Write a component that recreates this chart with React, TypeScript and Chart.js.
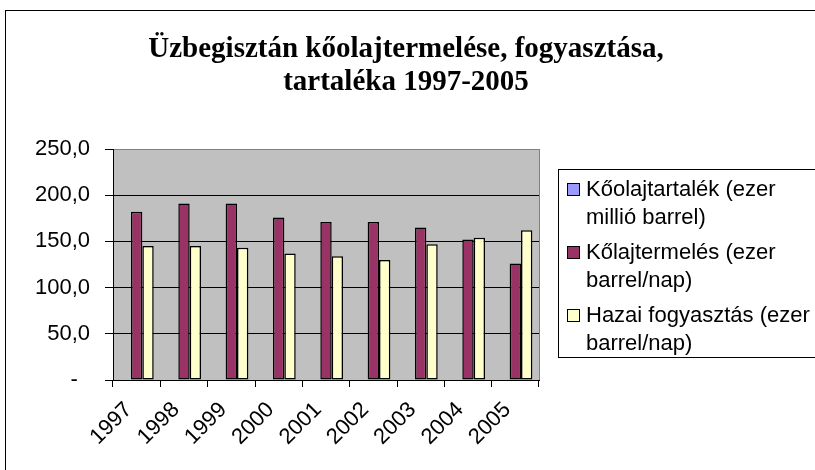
import React, { useEffect, useRef } from "react";
import { Chart, registerables } from "chart.js";

Chart.register(...registerables);

const years = ["1997", "1998", "1999", "2000", "2001", "2002", "2003", "2004", "2005"];
const reserves = [0.6, 0.6, 0.6, 0.6, 0.6, 0.6, 0.6, 0.6, 0.6];
const production = [182, 191, 191, 176, 171, 171, 165, 152, 126];
const consumption = [145, 145, 143, 137, 134, 130, 147, 154, 162];
const seriesLabels = [
  "Kőolajtartalék (ezer millió barrel)",
  "Kőlajtermelés (ezer barrel/nap)",
  "Hazai fogyasztás (ezer barrel/nap)",
];
const legendLines = [
  ["Kőolajtartalék (ezer", "millió barrel)"],
  ["Kőlajtermelés (ezer", "barrel/nap)"],
  ["Hazai fogyasztás (ezer", "barrel/nap)"],
];
const seriesColors = ["#9999FF", "#993366", "#FFFFCC"];
const titleLines = ["Üzbegisztán kőolajtermelése, fogyasztása,", "tartaléka 1997-2005"];
const yMin = 0;
const yMax = 250;
const yStep = 50;

const SANS = "'Liberation Sans', Arial, sans-serif";
const SERIF = "'Liberation Serif', 'Times New Roman', serif";

const decorPlugin = {
  id: "decor",
  beforeDraw(chart: any) {
    const { ctx, chartArea } = chart;
    ctx.save();
    ctx.fillStyle = "#FFFFFF";
    ctx.fillRect(0, 0, chart.width, chart.height);
    // outer chart border
    ctx.strokeStyle = "#000000";
    ctx.lineWidth = 1;
    ctx.strokeRect(5.5, 10.5, 1000, 1000);
    // plot area
    ctx.fillStyle = "#C0C0C0";
    ctx.fillRect(chartArea.left, chartArea.top, chartArea.right - chartArea.left, chartArea.bottom - chartArea.top);
    ctx.strokeStyle = "#808080";
    ctx.strokeRect(
      Math.round(chartArea.left) + 0.5,
      Math.round(chartArea.top) + 0.5,
      Math.round(chartArea.right - chartArea.left),
      Math.round(chartArea.bottom - chartArea.top)
    );
    ctx.restore();
  },
  afterDraw(chart: any) {
    const { ctx } = chart;
    ctx.save();
    // title
    ctx.fillStyle = "#000000";
    ctx.font = `bold 29px ${SERIF}`;
    ctx.textAlign = "center";
    ctx.textBaseline = "alphabetic";
    ctx.fillText(titleLines[0], 406, 57);
    ctx.fillText(titleLines[1], 406, 90);

    // legend
    ctx.strokeStyle = "#000000";
    ctx.lineWidth = 1;
    ctx.fillStyle = "#FFFFFF";
    ctx.fillRect(558.5, 169.5, 400, 188);
    ctx.strokeRect(558.5, 169.5, 400, 188);
    ctx.font = `22px ${SANS}`;
    ctx.textAlign = "left";
    ctx.textBaseline = "middle";
    chart.data.datasets.forEach((ds: any, i: number) => {
      const y0 = 190 + i * 63;
      ctx.fillStyle = ds.backgroundColor;
      ctx.fillRect(567.5, y0 - 6.5, 12, 12);
      ctx.strokeStyle = "#000000";
      ctx.strokeRect(567.5, y0 - 6.5, 12, 12);
      ctx.fillStyle = "#000000";
      legendLines[i].forEach((line, j) => {
        ctx.fillText(line, 586, y0 + j * 28);
      });
    });
    ctx.restore();
  },
};

export default function App() {
  const canvasRef = useRef<HTMLCanvasElement | null>(null);

  useEffect(() => {
    document.body.style.margin = "0";
    const canvas = canvasRef.current;
    if (!canvas) return;
    const chart = new Chart(canvas, {
      type: "bar",
      data: {
        labels: years,
        datasets: [
          { label: seriesLabels[0], data: reserves, backgroundColor: seriesColors[0] },
          { label: seriesLabels[1], data: production, backgroundColor: seriesColors[1] },
          { label: seriesLabels[2], data: consumption, backgroundColor: seriesColors[2] },
        ].map((d) => ({
          ...d,
          borderColor: "#000000",
          borderWidth: 1.5,
          borderSkipped: false,
          categoryPercentage: 0.72,
          barPercentage: 1,
        })),
      },
      options: {
        animation: false,
        responsive: false,
        devicePixelRatio: 1,
        layout: { padding: { top: 149, right: 276, left: 0, bottom: 0 } },
        plugins: {
          legend: { display: false },
          title: { display: false },
          tooltip: { enabled: false },
        },
        scales: {
          x: {
            afterFit: (scale: any) => {
              scale.height = 90;
            },
            grid: {
              offset: true,
              drawOnChartArea: false,
              drawTicks: true,
              tickLength: 7,
              tickColor: "#000000",
              color: "#000000",
            },
            border: { display: true, color: "#000000", width: 1 },
            ticks: {
              autoSkip: false,
              maxRotation: 45,
              minRotation: 45,
              color: "#000000",
              font: { family: SANS, size: 22 },
              padding: 10,
              labelOffset: -8,
            },
          },
          y: {
            min: yMin,
            max: yMax,
            afterFit: (scale: any) => {
              scale.width = 113;
            },
            grid: {
              color: (c: any) => (c.tick && c.tick.value === yMax ? "#808080" : "#000000"),
              tickColor: "#000000",
              tickLength: 8,
              lineWidth: 1,
            },
            border: { display: true, color: "#000000", width: 1 },
            ticks: {
              stepSize: yStep,
              color: "#000000",
              font: { family: SANS, size: 22 },
              padding: 15,
              callback: (v: any) =>
                Number(v) === 0 ? "-  " : Number(v).toFixed(1).replace(".", ","),
            },
          },
        },
      },
      plugins: [decorPlugin],
    } as any);
    return () => chart.destroy();
  }, []);

  return (
    <div>
      <canvas ref={canvasRef} width={815} height={470} style={{ display: "block", width: 815, height: 470 }} />
    </div>
  );
}
